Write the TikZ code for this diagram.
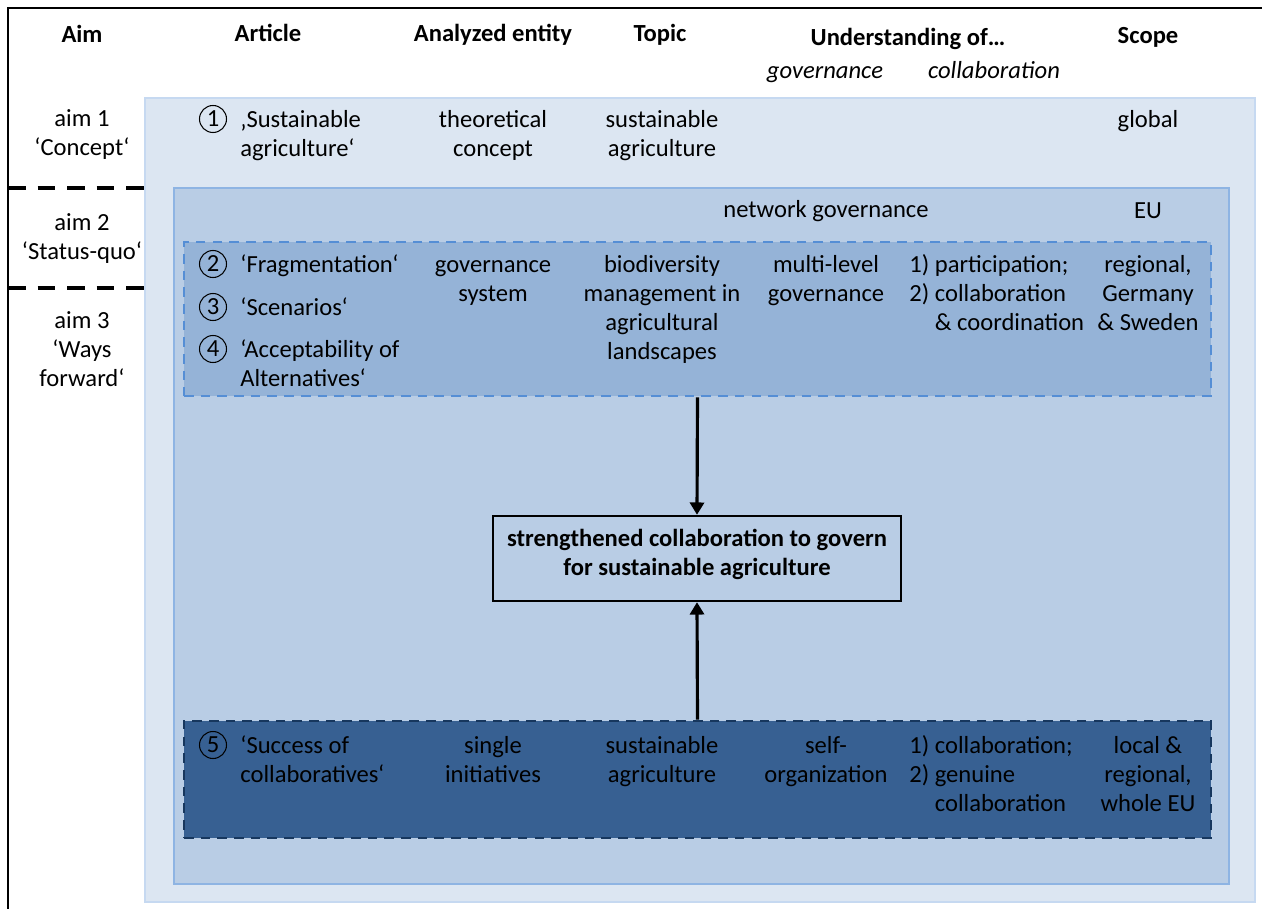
\documentclass[tikz,border=0pt]{standalone}
\usepackage{fontspec}
\setmainfont{Carlito}
\definecolor{paleblue}{HTML}{DCE6F2}
\definecolor{paleline}{HTML}{C6D9F1}
\definecolor{midblue}{HTML}{B9CDE5}
\definecolor{midline}{HTML}{8EB4E3}
\definecolor{lightblue}{HTML}{95B3D7}
\definecolor{lightline}{HTML}{558ED5}
\definecolor{darkblue}{HTML}{376092}
\definecolor{darkline}{HTML}{17375E}
\usetikzlibrary{arrows.meta, positioning, fit}
\tikzset{
	txt/.style={inner sep=0pt, anchor=north, align=center, font=\fontsize{14}{16.5}\selectfont},
	ltxt/.style={txt, anchor=north west, align=left},
	one/.style={inner sep=0pt, anchor=base, font=\fontsize{14}{16.5}\selectfont},
	head/.style={one, font=\fontsize{14}{16.5}\selectfont\bfseries},
	subhead/.style={one, font=\fontsize{14}{16.5}\selectfont\itshape},
	num/.style={circle, draw, line width=0.6pt, inner sep=0pt, minimum size=0.54cm, font=\fontsize{14}{16}\selectfont},
	conceptbox/.style={rectangle, draw=paleline, fill=paleblue, line width=1.6pt, inner sep=0pt},
	eubox/.style={rectangle, draw=midline, fill=midblue, line width=1.6pt, inner sep=0pt},
	statusbox/.style={rectangle, draw=lightline, fill=lightblue, line width=1.6pt, dash pattern=on 5.5pt off 4pt, inner sep=0pt},
	successbox/.style={rectangle, draw=darkline, fill=darkblue, line width=1.6pt, dash pattern=on 5.5pt off 4pt, inner sep=0pt},
	goalbox/.style={rectangle, draw=black, line width=1.4pt, align=center, minimum width=8.16cm, minimum height=1.7cm, font=\fontsize{14}{16.5}\selectfont\bfseries},
	arrow/.style={-{Triangle[length=7pt, width=8pt]}, line width=1.8pt},
	aimsep/.style={line width=2.4pt, dash pattern=on 10pt off 6.8pt},
	frame/.style={line width=1.5pt},
}
\begin{document}
\begin{tikzpicture}[x=0.02cm, y=-0.02cm]
	\useasboundingbox (0,0) rectangle (1262,909);
	% frame and aim separators
	\draw[frame] (8,909) -- (8,8) -- (1262,8);
	\draw[aimsep] (8,188) -- (145,188);
	\draw[aimsep] (8,288) -- (145,288);

	% nested areas
	\node[conceptbox, fit={(145,98) (1255,902)}] (concept) {};
	\node[eubox, fit={(174,188) (1229,884)}] (euarea) {};
	\node[statusbox, fit={(184,242) (1211,396)}] (status) {};
	\node[successbox, fit={(184,721) (1211,838)}] (success) {};
	\node[goalbox] (goal) at (697,558.5) {strengthened collaboration to govern\\for sustainable agriculture\rule[-7.5pt]{0pt}{0pt}};

	% header
	\node[head] (hAim) at (82,43) {Aim};
	\node[head] (hArticle) at (268,42) {Article};
	\node[head] (hEntity) at (493,42) {Analyzed entity};
	\node[head] (hTopic) at (660,42) {Topic};
	\node[head] (hUnder) at (908,46) {Understanding of…};
	\node[head] (hScope) at (1148,44) {Scope};
	\node[subhead] (hGov) at (825,79) {governance};
	\node[subhead] (hColl) at (994,79) {collaboration};

	% aims
	\node[txt] (aim1) at (82,106) {\strut aim 1\\‘Concept‘};
	\node[txt] (aim2) at (82,210) {\strut aim 2\\‘Status-quo‘};
	\node[txt] (aim3) at (82,308) {\strut aim 3\\‘Ways\\forward‘};

	% article 1
	\node[num] (n1) at (213,119) {1};
	\node[ltxt] (art1) at (240,107) {\strut‚Sustainable\\agriculture‘};
	\node[txt] (ent1) at (493,107) {\strut theoretical\\concept};
	\node[txt] (top1) at (662,107) {\strut sustainable\\agriculture};
	\node[one] (sc1) at (1148,128) {global};

	% network governance level
	\node[one] (netgov) at (826,217) {network governance};
	\node[one] (scEU) at (1148,218) {EU};

	% articles 2-4
	\node[num] (n2) at (213,264) {2};
	\node[ltxt] (art2) at (240,252) {\strut‘Fragmentation‘};
	\node[num] (n3) at (213,307) {3};
	\node[ltxt] (art3) at (240,295) {\strut‘Scenarios‘};
	\node[num] (n4) at (213,349) {4};
	\node[ltxt] (art4) at (240,337) {\strut‘Acceptability of\\Alternatives‘};
	\node[txt] (ent2) at (493,252) {\strut governance\\system};
	\node[txt] (top2) at (662,252) {\strut biodiversity\\management in\\agricultural\\landscapes};
	\node[txt] (gov2) at (826,252) {\strut multi-level\\governance};
	\node[ltxt] (col2) at (909,252) {\strut 1) participation;\\2) collaboration\\\phantom{2) }\& coordination};
	\node[txt] (sc2) at (1148,252) {\strut regional,\\Germany\\\& Sweden};

	% article 5
	\node[num] (n5) at (213,745) {5};
	\node[ltxt] (art5) at (240,733) {\strut‘Success of\\collaboratives‘};
	\node[txt] (ent5) at (493,733) {\strut single\\initiatives};
	\node[txt] (top5) at (662,733) {\strut sustainable\\agriculture};
	\node[txt] (gov5) at (826,733) {\strut self-\\organization};
	\node[ltxt] (col5) at (909,733) {\strut 1) collaboration;\\2) genuine\\\phantom{2) }collaboration};
	\node[txt] (sc5) at (1148,733) {\strut local \&\\regional,\\whole EU};

	\draw[arrow] (status.south) -- (goal.north);
	\draw[arrow] (success.north) -- (goal.south);
\end{tikzpicture}
\end{document}
